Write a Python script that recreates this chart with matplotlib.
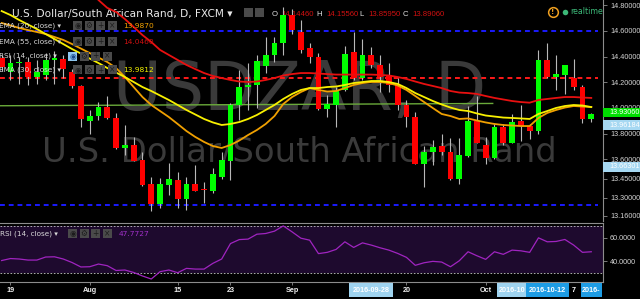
import matplotlib
matplotlib.use("Agg")
import matplotlib.pyplot as plt
from matplotlib.patches import Rectangle
from matplotlib.transforms import blended_transform_factory
import numpy as np

plt.rcParams['font.family'] = ['DejaVu Sans']

# ---------------- data ----------------
opens = [14.39, 14.28, 14.35, 14.36, 14.245, 14.26, 14.375, 14.38, 14.28, 14.17,
         13.895, 13.935, 14.005, 13.925, 13.69, 13.71, 13.595, 13.405, 13.25, 13.40,
         13.44, 13.29, 13.41, 13.362, 13.355, 13.465, 13.59, 14.02, 14.16, 14.18,
         14.33, 14.41, 14.505, 14.725, 14.595, 14.465, 14.395, 13.99, 14.025, 14.14,
         14.435, 14.23, 14.41, 14.335, 14.255, 14.18, 14.025, 13.93, 13.565, 13.655,
         13.705, 13.66, 13.445, 13.625, 13.90, 13.71, 13.61, 13.85, 13.73, 13.895,
         13.86, 13.82, 14.37, 14.245, 14.255, 14.23, 14.16, 13.91]
closes = [14.32, 14.35, 14.36, 14.245, 14.28, 14.37, 14.387, 14.30, 14.17, 13.91,
          13.935, 14.005, 13.92, 13.685, 13.71, 13.59, 13.40, 13.25, 13.405, 13.445,
          13.29, 13.41, 13.355, 13.358, 13.485, 13.595, 14.02, 14.16, 14.18, 14.365,
          14.41, 14.505, 14.725, 14.605, 14.45, 14.395, 13.99, 14.03, 14.13, 14.42,
          14.23, 14.41, 14.335, 14.245, 14.18, 14.025, 13.93, 13.565, 13.655, 13.695,
          13.655, 13.445, 13.635, 13.90, 13.73, 13.61, 13.85, 13.73, 13.89, 13.86,
          13.82, 14.37, 14.245, 14.265, 14.335, 14.16, 13.91, 13.95]
highs = [14.41, 14.41, 14.40, 14.40, 14.37, 14.43, 14.44, 14.41, 14.30, 14.18,
         13.985, 14.05, 14.09, 13.96, 13.865, 13.775, 13.66, 13.465, 13.455, 13.57,
         13.50, 13.465, 13.555, 13.425, 13.53, 13.66, 14.035, 14.295, 14.35, 14.41,
         14.555, 14.555, 14.79, 14.77, 14.685, 14.505, 14.425, 14.10, 14.165, 14.485,
         14.595, 14.535, 14.475, 14.41, 14.35, 14.23, 14.06, 13.97, 13.70, 13.75,
         13.80, 13.765, 13.765, 14.015, 14.09, 13.775, 13.875, 13.875, 13.95, 14.025,
         13.875, 14.45, 14.51, 14.415, 14.335, 14.385, 14.18, 13.963]
lows = [14.29, 14.22, 14.19, 14.18, 14.19, 14.22, 14.19, 14.23, 14.155, 13.85,
        13.80, 13.905, 13.915, 13.68, 13.635, 13.585, 13.395, 13.20, 13.22, 13.32,
        13.22, 13.205, 13.35, 13.257, 13.335, 13.45, 13.44, 13.905, 13.985, 14.0,
        14.275, 14.36, 14.41, 14.58, 14.425, 14.35, 13.985, 13.93, 13.855, 14.13,
        14.22, 14.22, 14.31, 14.125, 14.125, 13.985, 13.855, 13.56, 13.385, 13.555,
        13.635, 13.44, 13.405, 13.615, 13.725, 13.565, 13.60, 13.71, 13.725, 13.745,
        13.755, 13.80, 14.23, 14.14, 14.11, 14.14, 13.885, 13.893]

ema20 = [14.662, 14.643, 14.623, 14.607, 14.592, 14.576, 14.553, 14.53, 14.498, 14.463,
         14.428, 14.393, 14.358, 14.311, 14.241, 14.163, 14.085, 14.023, 13.976, 13.929,
         13.875, 13.82, 13.774, 13.735, 13.703, 13.688, 13.711, 13.746, 13.789, 13.828,
         13.875, 13.937, 14.031, 14.085, 14.124, 14.155, 14.14, 14.128, 14.132, 14.155,
         14.179, 14.194, 14.202, 14.202, 14.194, 14.175, 14.14, 14.093, 14.046, 13.999,
         13.953, 13.937, 13.914, 13.918, 13.902, 13.887, 13.875, 13.867, 13.863, 13.859,
         13.859, 13.922, 13.961, 13.984, 14.003, 14.015, 14.011, 14.007]
ema30 = [14.755, 14.724, 14.685, 14.65, 14.615, 14.576, 14.537, 14.498, 14.459, 14.424,
         14.385, 14.35, 14.311, 14.276, 14.241, 14.202, 14.163, 14.132, 14.097, 14.062,
         14.023, 13.984, 13.949, 13.914, 13.887, 13.867, 13.875, 13.89, 13.914, 13.945,
         13.984, 14.023, 14.07, 14.109, 14.14, 14.155, 14.155, 14.163, 14.167, 14.179,
         14.194, 14.202, 14.21, 14.21, 14.202, 14.187, 14.155, 14.116, 14.085, 14.054,
         14.027, 14.003, 13.984, 13.976, 13.957, 13.941, 13.933, 13.925, 13.922, 13.918,
         13.914, 13.953, 13.976, 14.0, 14.015, 14.023, 14.019, 14.007]
ema55 = [15.37, 15.34, 15.31, 15.27, 15.23, 15.18, 15.14, 15.09, 15.04, 14.98,
         14.93, 14.841, 14.78, 14.748, 14.693, 14.631, 14.568, 14.514, 14.452, 14.413,
         14.374, 14.335, 14.303, 14.272, 14.249, 14.233, 14.218, 14.206, 14.202, 14.206,
         14.218, 14.233, 14.253, 14.264, 14.272, 14.272, 14.268, 14.264, 14.26, 14.26,
         14.26, 14.26, 14.26, 14.257, 14.253, 14.241, 14.226, 14.206, 14.187, 14.171,
         14.155, 14.132, 14.12, 14.116, 14.109, 14.093, 14.078, 14.066, 14.054, 14.046,
         14.041, 14.062, 14.07, 14.078, 14.085, 14.085, 14.081, 14.078]
rsi = [40.4, 42.1, 41.7, 40.8, 40.8, 43.4, 43.6, 41.7, 38.7, 34.9,
       35.1, 37.4, 36.0, 31.9, 32.3, 30.2, 27.2, 24.6, 30.9, 32.3,
       30.0, 33.7, 33.1, 33.1, 38.0, 41.7, 54.9, 58.3, 58.7, 62.9,
       63.5, 65.5, 70.0, 64.9, 59.5, 57.8, 46.3, 47.4, 49.9, 56.4,
       51.6, 55.5, 53.6, 51.3, 49.3, 46.5, 43.1, 36.3, 38.5, 39.7,
       39.1, 35.1, 40.2, 47.9, 44.5, 41.4, 47.9, 45.7, 49.3, 48.7,
       47.4, 59.8, 56.4, 56.7, 58.4, 53.6, 47.4, 47.9]

date_labels = ['19', 'Aug', '15', '23', 'Sep', '20', 'Oct']
date_idx = [1, 10, 20, 26, 33, 46, 55]
marker_labels = ['2016-09-28', '2016-10', '2016-10-12', '7', '2016-']
marker_idx = [42, 58, 62, 65, 67]

price_ticks = [14.8, 14.6, 14.4, 14.2, 14.0, 13.8, 13.6, 13.45, 13.30, 13.16]
rsi_ticks = [60, 40]

# drawn levels
blue_levels = [14.600, 13.243]
red_level = 14.232
green_line = ([-0.19, 55.8], [14.017, 14.035])

# ---------------- styling / layout ----------------
W, H = 640, 299
fig = plt.figure(figsize=(6.4, 2.99), dpi=100, facecolor="black")

def fx(x): return x / W
def fy(y): return 1 - y / H

PLOT_R = 603.0
MAIN_B = 221.0
RSI_T, RSI_B = 222.5, 282.3
STEP = 8.8
xmin = -0.19
xmax = xmin + PLOT_R / STEP

GREEN = '#00ff00'
RED = '#ff0000'
WICK = '#b8b8b8'
AXC = '#8c8c8c'
LBL = '#d4d4d4'

ax = fig.add_axes([0, fy(MAIN_B), fx(PLOT_R), MAIN_B / H])
ax.set_facecolor('black')
ax.set_xlim(xmin, xmax)
ax.set_ylim(13.1188, 14.8413)

# watermark (behind everything)
ax.text(fx(299.5), fy(110), 'USDZAR, D', transform=fig.transFigure, ha='center',
        va='baseline', fontsize=48, color='#3a3a3a', zorder=0.5)
ax.text(fx(299), fy(162), 'U.S. Dollar/South African Rand', transform=fig.transFigure,
        ha='center', va='baseline', fontsize=24.4, color='#3a3a3a', zorder=0.5)

# header row (drawn below the candles)
ax.text(fx(12), fy(16.5), 'U.S. Dollar/South African Rand, D, FXCM \u25be', transform=fig.transFigure,
        ha='left', va='baseline', fontsize=7.6, color='#e8e8e8', zorder=1)
hdr = [('O', 272, '#e0e0e0'), ('14.14460', 281, '#d01010'), ('H', 316, '#e0e0e0'),
       ('14.15560', 326, '#d01010'), ('L', 359, '#e0e0e0'), ('13.85950', 368, '#d01010'),
       ('C', 403, '#e0e0e0'), ('13.89060', 412, '#d01010')]
for t, x, c in hdr:
    ax.text(fx(x), fy(15.8), t, transform=fig.transFigure, ha='left', va='baseline',
            fontsize=5.6, color=c, zorder=1, family='Liberation Sans')
for x in (244, 255):
    ax.add_patch(Rectangle((fx(x), fy(17)), 9 / W, 9 / H, transform=fig.transFigure,
                           fc='#4a4a4a', ec='none', zorder=1, clip_on=False))

# horizontal drawn levels
for lv in blue_levels:
    ax.plot([xmin, 67.8], [lv, lv], color='#1a1aff', lw=1.4, ls=(0, (2.5, 2)), zorder=2)
ax.plot([xmin, 67.8], [red_level, red_level], color='#ff1a1a', lw=1.4, ls=(0, (2.5, 2)), zorder=2)
ax.plot(green_line[0], green_line[1], color='#6aaa3a', lw=1.0, zorder=2)

# candles
idx = np.arange(len(closes))
for i, (o, h, l, c) in enumerate(zip(opens, highs, lows, closes)):
    col = GREEN if c >= o else RED
    ax.vlines(i, l, h, color=WICK, lw=0.8, zorder=3)
    b = min(o, c)
    hgt = max(abs(c - o), 0.008)
    ax.add_patch(Rectangle((i - 0.33, b), 0.66, hgt, fc=col, ec='none', zorder=4))

# moving averages
ax.plot(idx, ema55, color='#e81010', lw=1.3, zorder=5)
ax.plot(idx, ema20, color='#f0a000', lw=1.3, zorder=5)
ax.plot(idx, ema30, color='#f8f000', lw=1.3, zorder=5)

# price axis
ax.yaxis.tick_right()
ax.set_yticks(price_ticks)
ax.set_yticklabels([f'{t:.5f}' for t in price_ticks], family='Liberation Sans')
ax.tick_params(axis='y', length=3, width=0.6, color=AXC, labelsize=5.2, labelcolor=LBL, pad=2)
ax.set_xticks([])
for s in ('top', 'left', 'bottom'):
    ax.spines[s].set_visible(False)
ax.spines['right'].set_color(AXC)
ax.spines['right'].set_linewidth(0.8)

# price-scale tags
btr = blended_transform_factory(ax.transAxes, ax.transData)
tags = [('13.93060', 13.964, '#00dd00'), ('13.96184', 13.867, '#a6d8f2'), ('13.66301', 13.540, '#a6d8f2')]
for t, lv, bc in tags:
    ax.add_patch(Rectangle((1.0, lv - 0.036), 0.065, 0.072, transform=btr, fc=bc, ec='none',
                           zorder=20, clip_on=False))
    ax.text(1.0 + 6 / PLOT_R, lv, t, transform=btr, ha='left', va='center', fontsize=5.2,
            color='white', zorder=21, clip_on=False, family='Liberation Sans')

# ---------------- RSI pane ----------------
ar = fig.add_axes([0, fy(RSI_B), fx(PLOT_R), (RSI_B - RSI_T) / H])
ar.set_facecolor('black')
ar.set_xlim(xmin, xmax)
ar.set_ylim(21.8, 72.9)
ar.axhspan(30, 70, color='#1e0a2e', zorder=0, lw=0)
for lv in (70, 30):
    ar.axhline(lv, color='#c8c8c8', lw=0.6, ls=(0, (2, 2)), zorder=1)
ar.plot(idx, rsi, color='#a024c0', lw=0.9, zorder=3)
ar.yaxis.tick_right()
ar.set_yticks(rsi_ticks)
ar.set_yticklabels([f'{t:.4f}' for t in rsi_ticks], family='Liberation Sans')
ar.tick_params(axis='y', length=3, width=0.6, color=AXC, labelsize=5.2, labelcolor=LBL, pad=2)
ar.set_xticks(date_idx)
ar.set_xticklabels([])
ar.tick_params(axis='x', length=2.5, width=0.6, color=AXC)
ar.spines['left'].set_visible(False)
for s in ('top', 'bottom', 'right'):
    ar.spines[s].set_color(AXC)
    ar.spines[s].set_linewidth(0.8)

xtr = blended_transform_factory(ar.transData, fig.transFigure)
for lab, i in zip(date_labels, date_idx):
    ar.text(i, fy(290.5), lab, transform=xtr, ha='center', va='center', fontsize=5.2,
            color='#eeeeee', fontweight='bold', clip_on=False, family='Liberation Sans')

marker_w = [44, 30, 43, 0, 21]
marker_bg = ['#9fd3ef', '#9fd3ef', '#1e9ce4', None, '#1e9ce4']
for lab, i, bw, bc in zip(marker_labels, marker_idx, marker_w, marker_bg):
    cx = (i - xmin) * STEP
    if bc:
        fig.add_artist(Rectangle((fx(cx - bw / 2), fy(297)), bw / W, 14 / H,
                                 transform=fig.transFigure, fc=bc, ec='none'))
    fig.text(fx(cx), fy(290.5), lab, ha='center', va='center', fontsize=5.2, color='white',
             fontweight='bold', family='Liberation Sans')

# ---------------- legends (overlay) ----------------
def icons(x0, ycen, n=4, gap=11.5, first=None):
    glyphs = ['\u25c9', '\u2699', '+', '\u00d7']
    for k in range(n):
        x = x0 + k * gap
        fc = '#4a4a4a'
        gc = '#1c1c1c'
        if k == 0 and first:
            fc, gc = first, '#1a4a8a'
        fig.add_artist(Rectangle((fx(x), fy(ycen + 4.5)), 9 / W, 9 / H,
                                 transform=fig.transFigure, fc=fc, ec='none'))
        fig.text(fx(x + 4.5), fy(ycen), glyphs[k], ha='center', va='center',
                 fontsize=5.5, color=gc)

rows = [('EMA (20, close) \u25be', 25.7, '13.9870', '#f0a000'),
        ('EMA (55, close) \u25be', 41.7, '14.0460', '#cc1010'),
        ('RSI (14, close) \u25be', 56.0, None, None),
        ('EMA (30, close) \u25be', 70.0, '13.9812', '#f0f000')]
for name, yc, val, vc in rows:
    fig.text(fx(-1), fy(yc), name, ha='left', va='center', fontsize=5.2, color='#d8d8d8')
    if val is None:
        icons(68, yc, first='#8ec6ee')
    else:
        icons(73, yc)
        fig.text(fx(123), fy(yc), val, ha='left', va='center', fontsize=5.4, color=vc)

fig.text(fx(0), fy(233.5), 'RSI (14, close) \u25be', ha='left', va='center', fontsize=5.2,
         color='#d8d8d8')
icons(68, 233.5)
fig.text(fx(119), fy(233.5), '47.7727', ha='left', va='center', fontsize=5.4, color='#a030c8')

# realtime indicator
fig.add_artist(plt.Line2D([fx(553)], [fy(12)], marker='o', ms=7, mfc='none', mec='#f0a020',
                          mew=1.1, transform=fig.transFigure))
fig.text(fx(553), fy(12), '!', ha='center', va='center', fontsize=5, color='#f0a020',
         fontweight='bold')
fig.add_artist(plt.Line2D([fx(565)], [fy(12)], marker='o', ms=4, mfc='#3cb878', mec='none',
                          transform=fig.transFigure))
fig.text(fx(570), fy(12), 'realtime', ha='left', va='center', fontsize=5.7, color='#3cb878')

fig.savefig('out.png', dpi=100, facecolor='black')
